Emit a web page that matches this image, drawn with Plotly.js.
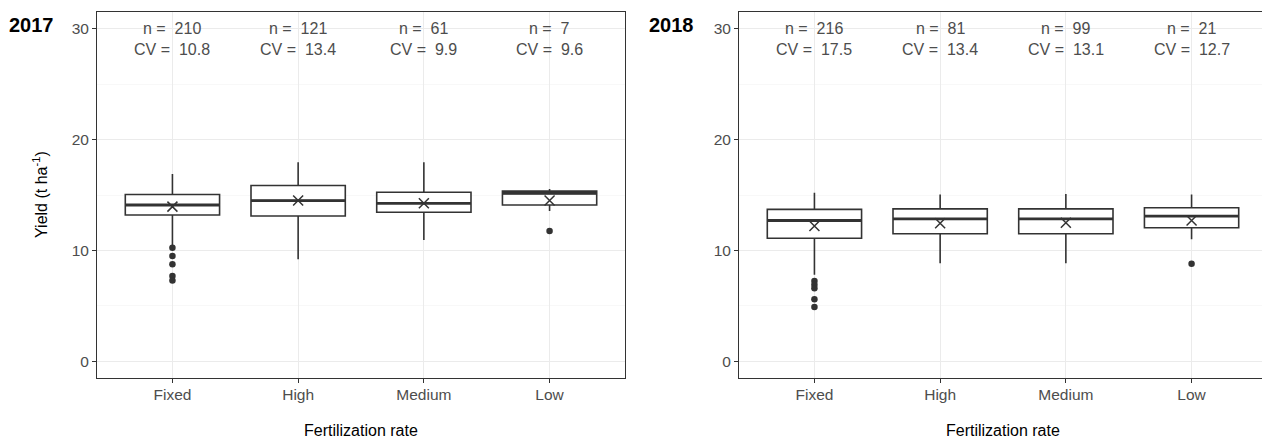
<!DOCTYPE html>
<html>
<head>
<meta charset="utf-8">
<script src="https://cdn.plot.ly/plotly-3.0.1.min.js"></script>
<style>
  html, body { margin: 0; padding: 0; overflow: hidden; background: #fff; }
  #chart { width: 1275px; height: 438px; }
</style>
</head>
<body>
<div id="chart"></div>
<script>
// ---- Data ----
const categories = ['Fixed', 'High', 'Medium', 'Low'];

const q1_2017     = [13.2, 13.1, 13.45, 14.1];
const median_2017 = [14.1, 14.5, 14.25, 15.15];
const q3_2017     = [15.05, 15.85, 15.25, 15.35];
const lower_2017  = [10.5, 9.2, 10.95, 13.55];
const upper_2017  = [16.9, 17.95, 17.95, 15.55];
const mean_2017   = [13.95, 14.5, 14.25, 14.5];
const outliers_2017 = [[10.25, 9.5, 8.75, 7.7, 7.3], [], [], [11.75]];
const n_2017  = [210, 121, 61, 7];
const cv_2017 = ['10.8', '13.4', '9.9', '9.6'];

const q1_2018     = [11.1, 11.5, 11.5, 12.05];
const median_2018 = [12.7, 12.85, 12.85, 13.1];
const q3_2018     = [13.7, 13.75, 13.75, 13.85];
const lower_2018  = [7.8, 8.85, 8.85, 11.0];
const upper_2018  = [15.2, 15.05, 15.1, 15.05];
const mean_2018   = [12.2, 12.45, 12.5, 12.7];
const outliers_2018 = [[7.25, 6.9, 6.6, 5.6, 4.9], [], [], [8.8]];
const n_2018  = [216, 81, 99, 21];
const cv_2018 = ['17.5', '13.4', '13.1', '12.7'];

const yearLabels = ['2017', '2018'];

// ---- Styling ----
const INK = '#333333';
const GREY30 = '#4D4D4D';
const FONT = 'Liberation Sans, Arial, Helvetica, sans-serif';
const BOXW = 0.75;
const idx = categories.map((_, i) => i);

function panelTraces(xa, ya, q1, med, q3, lo, hi, mean, outl) {
  const traces = [];
  traces.push({
    type: 'box', xaxis: xa, yaxis: ya,
    x: idx, q1: q1, median: med, q3: q3, lowerfence: lo, upperfence: hi,
    width: BOXW, whiskerwidth: 0, boxpoints: false,
    fillcolor: '#ffffff', line: { color: INK, width: 1.6 },
    hoverinfo: 'skip', showlegend: false
  });
  // thicker median bar (ggplot fatten)
  const mx = [], my = [];
  idx.forEach(i => { mx.push(i - BOXW / 2, i + BOXW / 2, null); my.push(med[i], med[i], null); });
  traces.push({
    type: 'scatter', mode: 'lines', xaxis: xa, yaxis: ya, x: mx, y: my,
    line: { color: INK, width: 2.8 }, hoverinfo: 'skip', showlegend: false
  });
  // outliers
  const ox = [], oy = [];
  outl.forEach((arr, i) => arr.forEach(v => { ox.push(i); oy.push(v); }));
  traces.push({
    type: 'scatter', mode: 'markers', xaxis: xa, yaxis: ya, x: ox, y: oy,
    marker: { color: INK, size: 6.5, symbol: 'circle' }, hoverinfo: 'skip', showlegend: false
  });
  // mean as x
  traces.push({
    type: 'scatter', mode: 'markers', xaxis: xa, yaxis: ya, x: idx, y: mean,
    marker: { symbol: 'x-thin-open', size: 10, line: { color: INK, width: 1.5 }, color: INK },
    hoverinfo: 'skip', showlegend: false
  });
  return traces;
}

const data = [
  ...panelTraces('x', 'y', q1_2017, median_2017, q3_2017, lower_2017, upper_2017, mean_2017, outliers_2017),
  ...panelTraces('x2', 'y2', q1_2018, median_2018, q3_2018, lower_2018, upper_2018, mean_2018, outliers_2018)
];

const W = 1275, H = 438;
const px = v => v / W;
const py = v => (H - v) / H;

function xaxisDef(d0, d1, anchor) {
  return {
    domain: [px(d0), px(d1)], anchor: anchor,
    range: [-0.6, 3.6], tickmode: 'array', tickvals: idx, ticktext: categories,
    showgrid: true, gridcolor: '#EBEBEB', gridwidth: 1, zeroline: false,
    showline: true, mirror: true, linecolor: INK, linewidth: 1,
    ticks: 'outside', ticklen: 4, tickcolor: INK, tickwidth: 1,
    ticklabelstandoff: -2,
    tickfont: { family: FONT, size: 15.5, color: GREY30 }
  };
}
function yaxisDef(anchor) {
  return {
    domain: [py(378), py(12)], anchor: anchor,
    range: [-1.5, 31.5], tickmode: 'array', tickvals: [0, 10, 20, 30],
    showgrid: true, gridcolor: '#EBEBEB', gridwidth: 1, zeroline: false,
    minor: { tickmode: 'array', tickvals: [5, 15, 25], showgrid: true, gridcolor: '#F4F4F4', gridwidth: 0.6, ticks: '' },
    showline: true, mirror: true, linecolor: INK, linewidth: 1,
    ticks: 'outside', ticklen: 4, tickcolor: INK, tickwidth: 1,
    tickfont: { family: FONT, size: 15.5, color: GREY30 }
  };
}

const annotations = [];
function statAnn(xref, yref, n, cv) {
  idx.forEach(i => {
    annotations.push({ xref: xref, yref: yref, x: i, y: 30, text: 'n = \u00A0' + n[i],
      showarrow: false, xanchor: 'center', yanchor: 'middle',
      font: { family: FONT, size: 16, color: GREY30 } });
    annotations.push({ xref: xref, yref: yref, x: i, y: 28.1, text: 'CV = \u00A0' + cv[i],
      showarrow: false, xanchor: 'center', yanchor: 'middle',
      font: { family: FONT, size: 16, color: GREY30 } });
  });
}
statAnn('x', 'y', n_2017, cv_2017);
statAnn('x2', 'y2', n_2018, cv_2018);

annotations.push({ xref: 'paper', yref: 'paper', x: px(31), y: py(25), text: '<b>' + yearLabels[0] + '</b>',
  showarrow: false, xanchor: 'center', yanchor: 'middle', font: { family: FONT, size: 20, color: '#000' } });
annotations.push({ xref: 'paper', yref: 'paper', x: px(671), y: py(25), text: '<b>' + yearLabels[1] + '</b>',
  showarrow: false, xanchor: 'center', yanchor: 'middle', font: { family: FONT, size: 20, color: '#000' } });

annotations.push({ xref: 'paper', yref: 'paper', x: px(361), y: py(430), text: 'Fertilization rate',
  showarrow: false, xanchor: 'center', yanchor: 'middle', font: { family: FONT, size: 16, color: '#000' } });
annotations.push({ xref: 'paper', yref: 'paper', x: px(1003), y: py(430), text: 'Fertilization rate',
  showarrow: false, xanchor: 'center', yanchor: 'middle', font: { family: FONT, size: 16, color: '#000' } });
annotations.push({ xref: 'paper', yref: 'paper', x: px(40), y: py(195), text: 'Yield (t ha<sup>-1</sup>)',
  textangle: -90, showarrow: false, xanchor: 'center', yanchor: 'middle', font: { family: FONT, size: 16, color: '#000' } });

const layout = {
  width: W, height: H, autosize: false,
  margin: { l: 0, r: 0, t: 0, b: 0, pad: 0 },
  paper_bgcolor: '#fff', plot_bgcolor: '#fff',
  showlegend: false,
  xaxis: xaxisDef(97, 625, 'y'),
  yaxis: yaxisDef('x'),
  xaxis2: xaxisDef(739, 1267, 'y2'),
  yaxis2: yaxisDef('x2'),
  annotations: annotations
};

Plotly.newPlot('chart', data, layout, { displayModeBar: false, staticPlot: true, responsive: false });
</script>
</body>
</html>
